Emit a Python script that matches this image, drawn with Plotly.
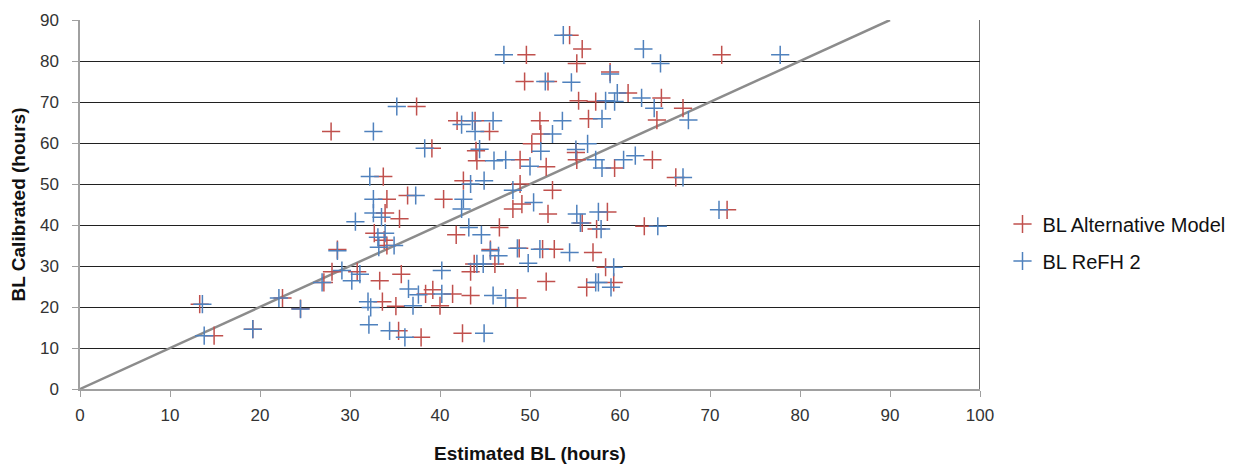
import plotly.graph_objects as go

# BL Alternative Model (x = Estimated BL, y = BL Calibrated)
alt_x = [13.3, 14.9, 19.2, 22.5, 24.5, 27.1, 28.0, 28.6, 27.9, 30.8, 33.7, 33.9, 35.5, 32.7, 33.8,
         34.1, 35.7, 33.3, 33.6, 35.1, 35.4, 37.9, 34.1, 36.4, 37.4, 39.1, 40.4, 41.9, 43.9, 45.5,
         44.0, 44.1, 42.6, 41.8, 46.6, 43.8, 46.1, 43.4, 38.4, 39.2, 41.4, 43.4, 48.6, 40.0, 42.5,
         45.6, 48.8, 48.1, 49.1, 48.9, 48.9, 49.6, 49.4, 52.0, 54.4, 55.8, 55.2, 58.9, 60.9, 55.4,
         57.3, 64.6, 67.0, 51.1, 56.5, 64.1, 51.2, 50.2, 55.1, 55.2, 51.8, 59.4, 63.6, 66.2, 52.5,
         71.3, 52.0, 58.6, 71.9, 55.8, 57.4, 62.7, 51.4, 52.7, 57.0, 58.4, 51.8, 56.3, 59.3]
alt_y = [20.7, 13.0, 14.6, 22.2, 19.6, 26.0, 28.6, 34.0, 62.8, 28.6, 51.8, 42.9, 41.5, 38.0, 36.3,
         35.0, 28.0, 26.4, 21.3, 20.2, 14.2, 12.6, 46.3, 47.2, 68.9, 58.7, 46.3, 65.4, 65.4, 62.8,
         58.1, 55.7, 50.8, 37.6, 39.4, 30.5, 30.5, 28.6, 23.2, 24.2, 23.2, 22.8, 22.2, 20.3, 13.6,
         34.0, 34.3, 43.9, 45.1, 50.0, 55.9, 81.5, 75.0, 75.0, 86.3, 82.9, 79.4, 77.3, 72.2, 70.3,
         70.1, 71.0, 68.5, 65.4, 65.9, 65.6, 62.2, 59.8, 57.7, 55.9, 54.2, 53.9, 55.9, 51.6, 48.5,
         81.5, 42.7, 43.2, 43.7, 40.5, 39.0, 39.7, 34.1, 34.1, 33.3, 29.7, 26.2, 24.8, 26.0]

# BL ReFH 2
refh_x = [13.6, 13.8, 19.2, 22.1, 24.5, 26.9, 28.6, 29.1, 30.2, 31.1, 30.6, 32.6, 33.5, 33.9, 33.1,
          34.9, 33.2, 32.0, 32.3, 32.1, 34.4, 36.1, 36.5, 37.6, 37.0, 40.2, 40.2, 32.2, 32.6, 37.3,
          32.6, 35.2, 38.3, 42.4, 43.6, 45.9, 43.9, 44.4, 46.0, 47.3, 43.4, 44.9, 48.1, 42.6, 42.4,
          43.2, 44.6, 45.6, 46.5, 48.6, 49.8, 44.1, 44.8, 45.9, 47.3, 44.9, 47.1, 50.0, 53.7, 62.6,
          64.5, 51.7, 54.6, 58.9, 59.7, 58.4, 59.4, 62.4, 63.8, 53.6, 58.0, 67.6, 52.5, 51.2, 56.4,
          55.1, 57.3, 58.0, 60.4, 61.7, 67.0, 50.4, 77.8, 55.2, 57.6, 71.0, 55.6, 57.9, 64.2, 51.1,
          54.4, 59.3, 57.3, 57.6, 59.0]
refh_y = [20.7, 13.0, 14.6, 22.2, 19.5, 26.0, 33.7, 28.9, 26.4, 28.0, 40.8, 42.9, 41.9, 38.0, 37.0,
          35.0, 34.6, 21.3, 19.9, 15.7, 14.2, 12.6, 24.4, 23.0, 20.3, 23.2, 28.9, 51.8, 46.3, 47.2,
          62.8, 68.9, 58.7, 64.5, 65.4, 65.4, 62.8, 58.5, 55.7, 55.9, 50.0, 50.8, 48.5, 46.3, 43.9,
          39.4, 37.6, 33.7, 32.5, 34.3, 30.7, 30.5, 30.5, 22.8, 22.2, 13.6, 81.5, 54.3, 86.3, 82.9,
          79.4, 75.0, 74.8, 76.8, 72.2, 70.3, 70.1, 71.0, 68.5, 65.4, 65.9, 65.6, 62.2, 58.0, 59.8,
          58.4, 55.9, 53.9, 55.9, 56.9, 51.6, 45.5, 81.5, 42.7, 43.2, 43.7, 40.5, 39.0, 39.7, 34.1,
          33.3, 29.7, 26.0, 26.0, 24.8]

# 1:1 reference line
line_x = [0, 90]
line_y = [0, 90]

x_ticks = [0, 10, 20, 30, 40, 50, 60, 70, 80, 90, 100]
y_ticks = [0, 10, 20, 30, 40, 50, 60, 70, 80, 90]

RED = "#C0504D"
BLUE = "#4F81BD"
FONT = "Liberation Sans, Arial, sans-serif"

fig = go.Figure()
fig.add_trace(go.Scatter(x=line_x, y=line_y, mode="lines",
                         line=dict(color="#8C8C8C", width=2.5), showlegend=False, hoverinfo="skip"))
fig.add_trace(go.Scatter(x=alt_x, y=alt_y, mode="markers", name="BL Alternative Model",
                         legendgroup="a",
                         marker=dict(symbol="cross-thin", size=13,
                                     line=dict(color=RED, width=1.5), color=RED)))
fig.add_trace(go.Scatter(x=refh_x, y=refh_y, mode="markers", name="BL ReFH 2",
                         legendgroup="b",
                         marker=dict(symbol="cross-thin", size=13,
                                     line=dict(color=BLUE, width=1.5), color=BLUE)))

# right border of plot area
fig.add_shape(type="line", x0=100, x1=100, y0=0, y1=90, xref="x", yref="y",
              line=dict(color="#404040", width=1.5), layer="below")

fig.update_layout(
    width=1242, height=465,
    margin=dict(l=72, r=270, t=12, b=84),
    paper_bgcolor="white", plot_bgcolor="white",
    font=dict(family=FONT, size=17, color="#333333"),
    legend=dict(x=1.025, y=0.397, yanchor="middle", xanchor="left",
                font=dict(size=20, family=FONT, color="#111111"),
                tracegroupgap=8, itemwidth=30),
    xaxis=dict(range=[0, 100], tickvals=x_ticks, showgrid=False, zeroline=False,
               automargin=False,
               showline=True, linecolor="#A0A0A0", linewidth=1.5,
               ticks="outside", ticklen=6, tickcolor="#A0A0A0",
               tickfont=dict(size=17), ticklabelstandoff=4,
               title=dict(text="<b>Estimated BL (hours)</b>",
                          font=dict(size=19, color="#111111"), standoff=23)),
    yaxis=dict(range=[0, 90], tickvals=y_ticks, showgrid=True, gridcolor="#202020", gridwidth=1.2,
               automargin=False,
               zeroline=False, showline=True, linecolor="#A0A0A0", linewidth=1.5,
               ticks="outside", ticklen=6, tickcolor="#A0A0A0",
               tickfont=dict(size=17), ticklabelstandoff=10,
               title=dict(text="<b>BL Calibrated (hours)</b>",
                          font=dict(size=19, color="#111111"), standoff=10)),
)

fig.write_html("out.html")
